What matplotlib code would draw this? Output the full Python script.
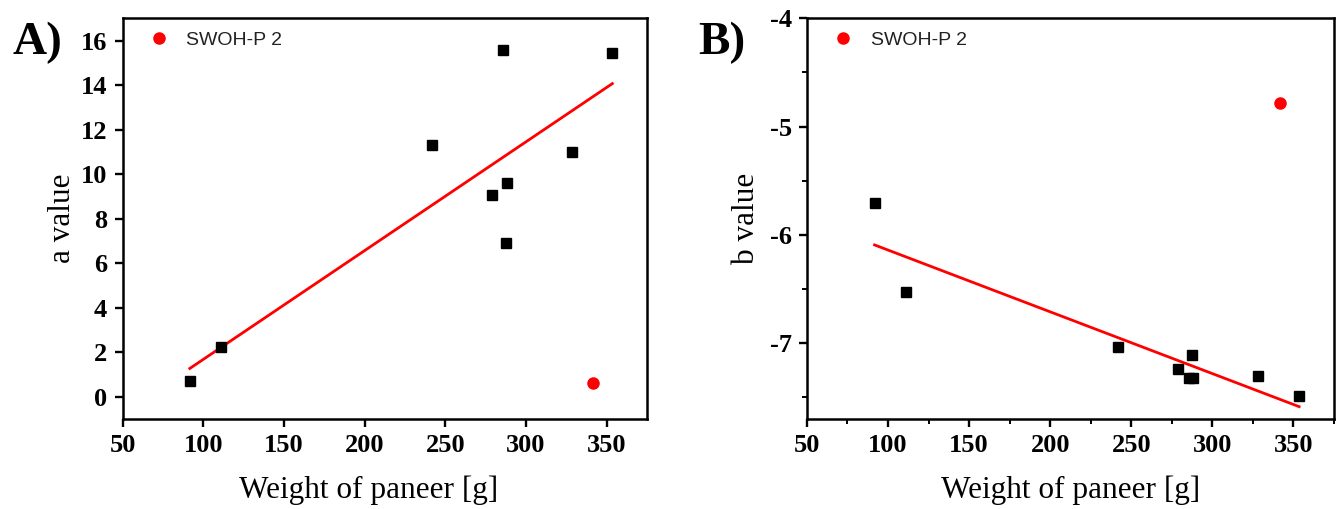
import numpy as np
import matplotlib
matplotlib.use("Agg")
import matplotlib.pyplot as plt
from matplotlib.ticker import MultipleLocator

plt.rcParams["axes.unicode_minus"] = False

# Paneer weight [g] for the regular samples
weight = [91.7, 110.9, 242.0, 279.0, 285.5, 287.4, 288.0, 328.4, 353.5]
a_value = [0.71, 2.22, 11.33, 9.05, 15.57, 6.92, 9.62, 11.01, 15.43]
b_value = [-5.71, -6.53, -7.04, -7.24, -7.32, -7.11, -7.32, -7.30, -7.49]

# Outlier sample, excluded from the fit
swoh_label = "SWOH-P 2"
swoh_weight = [341.8]
swoh_a = [0.63]
swoh_b = [-4.78]

x_ticks = [50, 100, 150, 200, 250, 300, 350]
a_ticks = [0, 2, 4, 6, 8, 10, 12, 14, 16]
b_ticks = [-7, -6, -5, -4]

serif = "Liberation Serif"
sans = "Liberation Sans"

fig = plt.figure(figsize=(13.36, 5.09), dpi=100)
ax_a = fig.add_axes([0.0917, 0.177, 0.3926, 0.787])
ax_b = fig.add_axes([0.604, 0.177, 0.3945, 0.787])


def draw_panel(ax, y, y_out, ylabel, yticks, ylim, minor, label_x):
    x = np.asarray(weight)
    yv = np.asarray(y)
    slope, icpt = np.polyfit(x, yv, 1)
    xf = np.array([x.min(), x.max()])
    ax.plot(xf, slope * xf + icpt, color="red", lw=2.0, zorder=2)
    ax.plot(x, yv, ls="none", marker="s", ms=7.2, color="black", zorder=3)
    ax.plot(swoh_weight, y_out, ls="none", marker="o", ms=8, color="red",
            label=swoh_label, zorder=3)

    ax.set_xlim(50, 375)
    ax.set_ylim(*ylim)
    ax.set_xticks(x_ticks)
    ax.set_yticks(yticks)
    if minor:
        ax.xaxis.set_minor_locator(MultipleLocator(25))
        ax.yaxis.set_minor_locator(MultipleLocator(0.5))
        ax.tick_params(which="minor", direction="out", length=3.5, width=1.4)
    ax.tick_params(which="major", direction="out", length=6, width=1.7, pad=5,
                   labelsize=19)
    for t in ax.get_xticklabels() + ax.get_yticklabels():
        t.set_fontfamily(serif)
        t.set_fontweight("bold")
    for s in ax.spines.values():
        s.set_linewidth(1.8)

    ax.set_xlabel("Weight of paneer [g]", fontfamily=serif, fontsize=22.5)
    ax.set_ylabel(ylabel, fontfamily=serif, fontsize=22.5)
    ax.xaxis.label.set_va("center")
    ax.yaxis.label.set_va("center")
    ax.xaxis.set_label_coords(label_x, -0.177)
    ax.yaxis.set_label_coords(-0.115, 0.5)

    leg = ax.legend(loc="center left", bbox_to_anchor=(0.058, 0.945),
                    frameon=False, handlelength=0.6, handletextpad=1.1,
                    borderaxespad=0, borderpad=0,
                    prop={"family": sans, "size": 14})
    for t in leg.get_texts():
        t.set_color("#222222")


draw_panel(ax_a, a_value, swoh_a, "a value", a_ticks, (-1, 17), False, 0.47)
draw_panel(ax_b, b_value, swoh_b, "b value", b_ticks, (-7.7, -4), True, 0.5)

fig.text(0.028, 0.915, "A)", fontfamily=serif, fontweight="bold",
         fontsize=34, ha="center", va="center")
fig.text(0.540, 0.915, "B)", fontfamily=serif, fontweight="bold",
         fontsize=34, ha="center", va="center")

fig.savefig("out.png", dpi=100)
